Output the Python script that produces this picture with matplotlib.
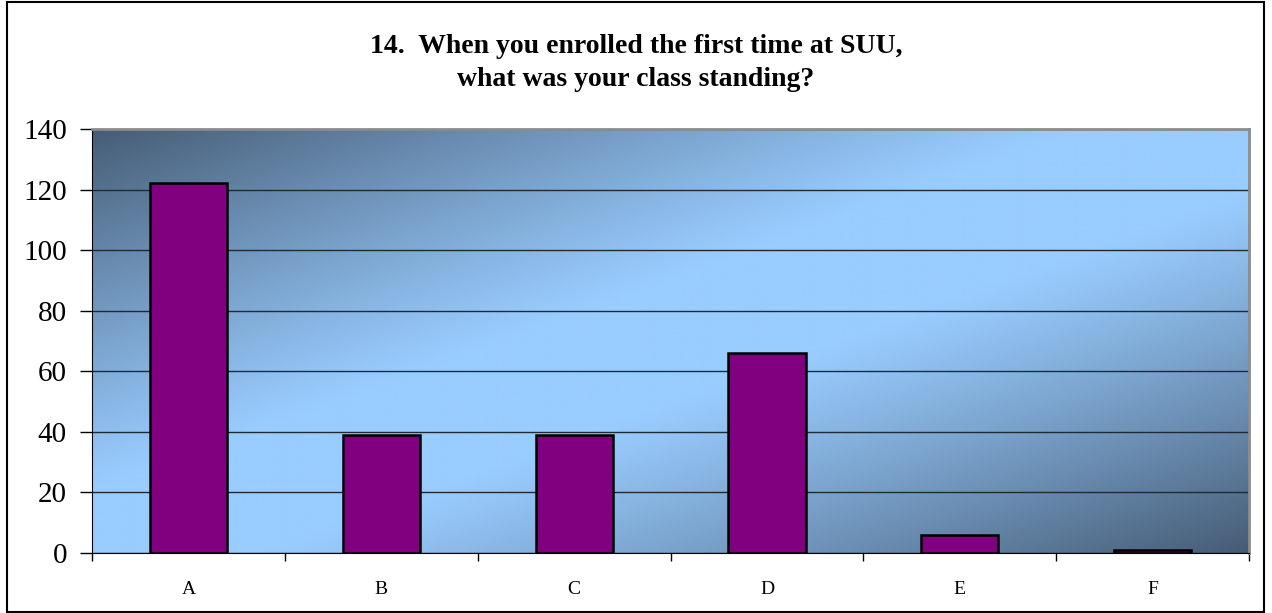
import numpy as np
import matplotlib.pyplot as plt
from matplotlib.patches import Rectangle

categories = ['A', 'B', 'C', 'D', 'E', 'F']
counts = [122, 39, 39, 66, 6, 1]
y_ticks = [0, 20, 40, 60, 80, 100, 120, 140]
title = '14.  When you enrolled the first time at SUU,\nwhat was your class standing?'

plt.rcParams['font.family'] = ['Liberation Serif', 'DejaVu Serif']

fig = plt.figure(figsize=(12.72, 6.13), dpi=100)
ax = fig.add_axes([0.0723, 0.0979, 0.9097, 0.6917])

# diagonal gradient background: dark corners, light band
nx, ny = 400, 200
xf = np.linspace(0, 1, nx)
yf = np.linspace(0, 1, ny)
X, Y = np.meshgrid(xf, yf)
u = X + Y  # Y=0 at top row with origin='upper'
t = np.clip((np.abs(u - 1.0) - 0.15) / 0.85, 0, 1) ** 1.1
dark = np.array([70, 92, 117]) / 255
light = np.array([153, 204, 255]) / 255
img = light[None, None, :] * (1 - t[..., None]) + dark[None, None, :] * t[..., None]
ax.imshow(img, extent=[0, 1, 0, 1], transform=ax.transAxes, origin='upper',
          aspect='auto', zorder=0, interpolation='bilinear')

x = np.arange(len(categories))
ax.bar(x, counts, width=0.4, color='#800080', edgecolor='black', linewidth=1.8, zorder=3)

ax.set_xlim(-0.5, len(categories) - 0.5)
ax.set_ylim(0, 140)
ax.set_yticks(y_ticks)
ax.yaxis.grid(True, color='#1f2a33', linewidth=1)
for gl in ax.get_ygridlines():
    gl.set_zorder(2)

ax.set_xticks(x)
ax.set_xticklabels(categories, fontsize=14)
ax.set_xticks(np.arange(-0.5, len(categories)), minor=True)
ax.tick_params(axis='x', which='major', length=0, pad=20)
ax.tick_params(axis='x', which='minor', length=6, width=1, direction='out', color='black')
ax.tick_params(axis='y', labelsize=21, length=9, width=1, direction='out', pad=9)

ax.spines['left'].set_color('black')
ax.spines['bottom'].set_color('black')
ax.spines['top'].set_color('#8c8c8c')
ax.spines['right'].set_color('#8c8c8c')
ax.spines['top'].set_linewidth(2)
ax.spines['right'].set_linewidth(2)

fig.text(0.5, 0.897, title, ha='center', va='center', fontsize=20,
         fontweight='bold', linespacing=1.45)

fig.patches.append(Rectangle((7 / 1272, 1 / 613), 1257 / 1272, 610 / 613,
                             transform=fig.transFigure, fill=False,
                             edgecolor='black', linewidth=1.5))

fig.savefig('out.png', dpi=100)
